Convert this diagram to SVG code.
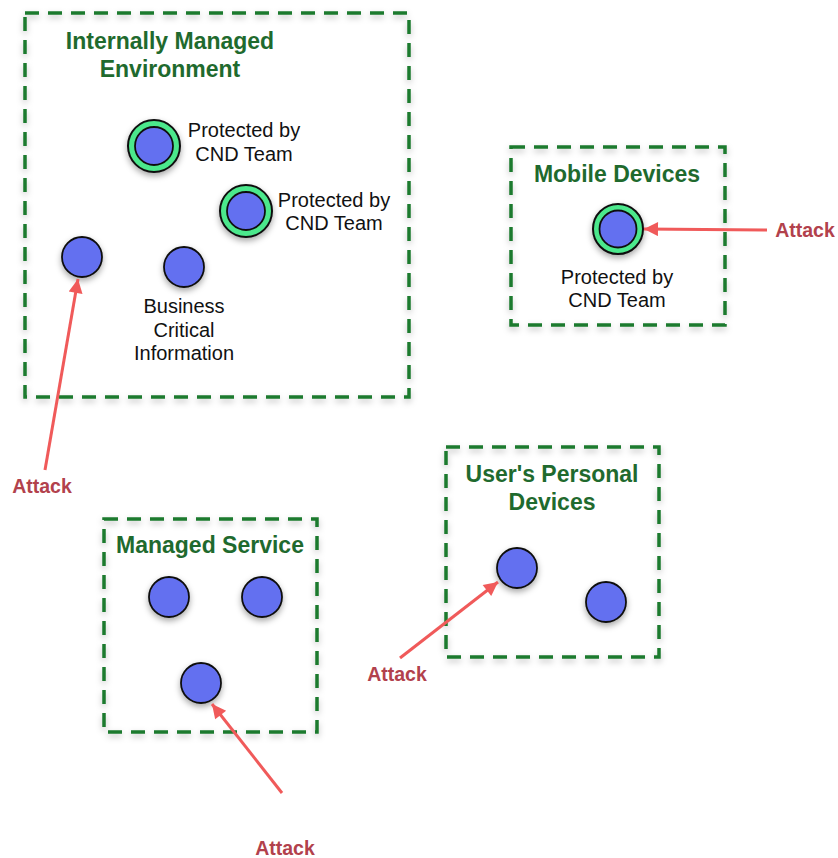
<svg xmlns="http://www.w3.org/2000/svg" width="838" height="858" viewBox="0 0 838 858">
<defs>
<filter id="sh" x="-30%" y="-30%" width="160%" height="160%">
<feDropShadow dx="0" dy="3" stdDeviation="3" flood-color="#000" flood-opacity="0.35"/>
</filter>
<filter id="shb" x="-10%" y="-10%" width="120%" height="120%">
<feDropShadow dx="0" dy="3" stdDeviation="3" flood-color="#000" flood-opacity="0.25"/>
</filter>
<marker id="ah" viewBox="0 0 10 10" refX="10" refY="5" markerWidth="20" markerHeight="14" markerUnits="userSpaceOnUse" orient="auto">
<path d="M0,0 L10,5 L0,10 z" fill="#f05a5a"/>
</marker>
<style>
.box{fill:none;stroke:#1e7a2e;stroke-width:3.5;stroke-dasharray:14 9;filter:url(#shb)}
.title{font-family:"Liberation Sans",Arial,sans-serif;font-weight:bold;font-size:23px;fill:#1f6a2e;text-anchor:middle}
.lbl{font-family:"Liberation Sans",Arial,sans-serif;font-size:20px;fill:#111;text-anchor:middle}
.atk{font-family:"Liberation Sans",Arial,sans-serif;font-weight:bold;font-size:19.5px;fill:#b2414c;text-anchor:middle}
.node{fill:#6470f0;stroke:#111;stroke-width:1.8}
.ring{fill:#4ce88c;stroke:#111;stroke-width:2}
.arr{stroke:#f05a5a;stroke-width:3;fill:none;marker-end:url(#ah)}
</style>
</defs>
<rect width="838" height="858" fill="#fff"/>

<g id="internal">
<rect class="box" x="25" y="13" width="384" height="384"/>
<text class="title" x="170" y="49">Internally Managed</text>
<text class="title" x="170" y="77">Environment</text>
</g>
<g id="n-int-prot1" filter="url(#sh)">
<circle class="ring" cx="154" cy="146" r="26"/>
<circle class="node" cx="154" cy="146" r="19"/>
</g>
<text class="lbl" x="244" y="137">Protected by</text>
<text class="lbl" x="244" y="161">CND Team</text>
<g id="n-int-prot2" filter="url(#sh)">
<circle class="ring" cx="246" cy="211" r="26"/>
<circle class="node" cx="246" cy="211" r="19"/>
</g>
<text class="lbl" x="334" y="207">Protected by</text>
<text class="lbl" x="334" y="230">CND Team</text>
<g id="n-int-left" filter="url(#sh)">
<circle class="node" cx="82" cy="257" r="20"/>
</g>
<g id="n-int-bci">
<circle class="node" cx="184" cy="267" r="20" filter="url(#sh)"/>
<text class="lbl" x="184" y="313">Business</text>
<text class="lbl" x="184" y="337">Critical</text>
<text class="lbl" x="184" y="360">Information</text>
</g>

<g id="mobile">
<rect class="box" x="511" y="147" width="214" height="178"/>
<text class="title" x="617" y="182">Mobile Devices</text>
</g>
<g id="n-mob" filter="url(#sh)">
<circle class="ring" cx="618" cy="229" r="25"/>
<circle class="node" cx="618" cy="229" r="18.5"/>
</g>
<text class="lbl" x="617" y="284">Protected by</text>
<text class="lbl" x="617" y="307">CND Team</text>

<g id="managed">
<rect class="box" x="104" y="519" width="213" height="213"/>
<text class="title" x="210" y="553">Managed Service</text>
</g>
<g id="n-ms1" filter="url(#sh)"><circle class="node" cx="169" cy="597" r="20"/></g>
<g id="n-ms2" filter="url(#sh)"><circle class="node" cx="262" cy="597" r="20"/></g>
<g id="n-ms3" filter="url(#sh)"><circle class="node" cx="201" cy="683" r="20"/></g>

<g id="personal">
<rect class="box" x="446" y="447" width="213" height="210"/>
<text class="title" x="552" y="482">User's Personal</text>
<text class="title" x="552" y="510">Devices</text>
</g>
<g id="n-pd1" filter="url(#sh)"><circle class="node" cx="517" cy="568" r="20"/></g>
<g id="n-pd2" filter="url(#sh)"><circle class="node" cx="606" cy="602" r="20"/></g>

<g id="connectors">
<line class="arr" x1="45" y1="470" x2="78" y2="279"/>
<line class="arr" x1="767" y1="230" x2="644" y2="229"/>
<line class="arr" x1="282" y1="793" x2="212" y2="704"/>
<line class="arr" x1="400" y1="658" x2="498" y2="582"/>
</g>
<g id="attack-labels">
<text class="atk" x="42" y="493">Attack</text>
<text class="atk" x="805" y="237">Attack</text>
<text class="atk" x="285" y="855">Attack</text>
<text class="atk" x="397" y="681">Attack</text>
</g>
</svg>
